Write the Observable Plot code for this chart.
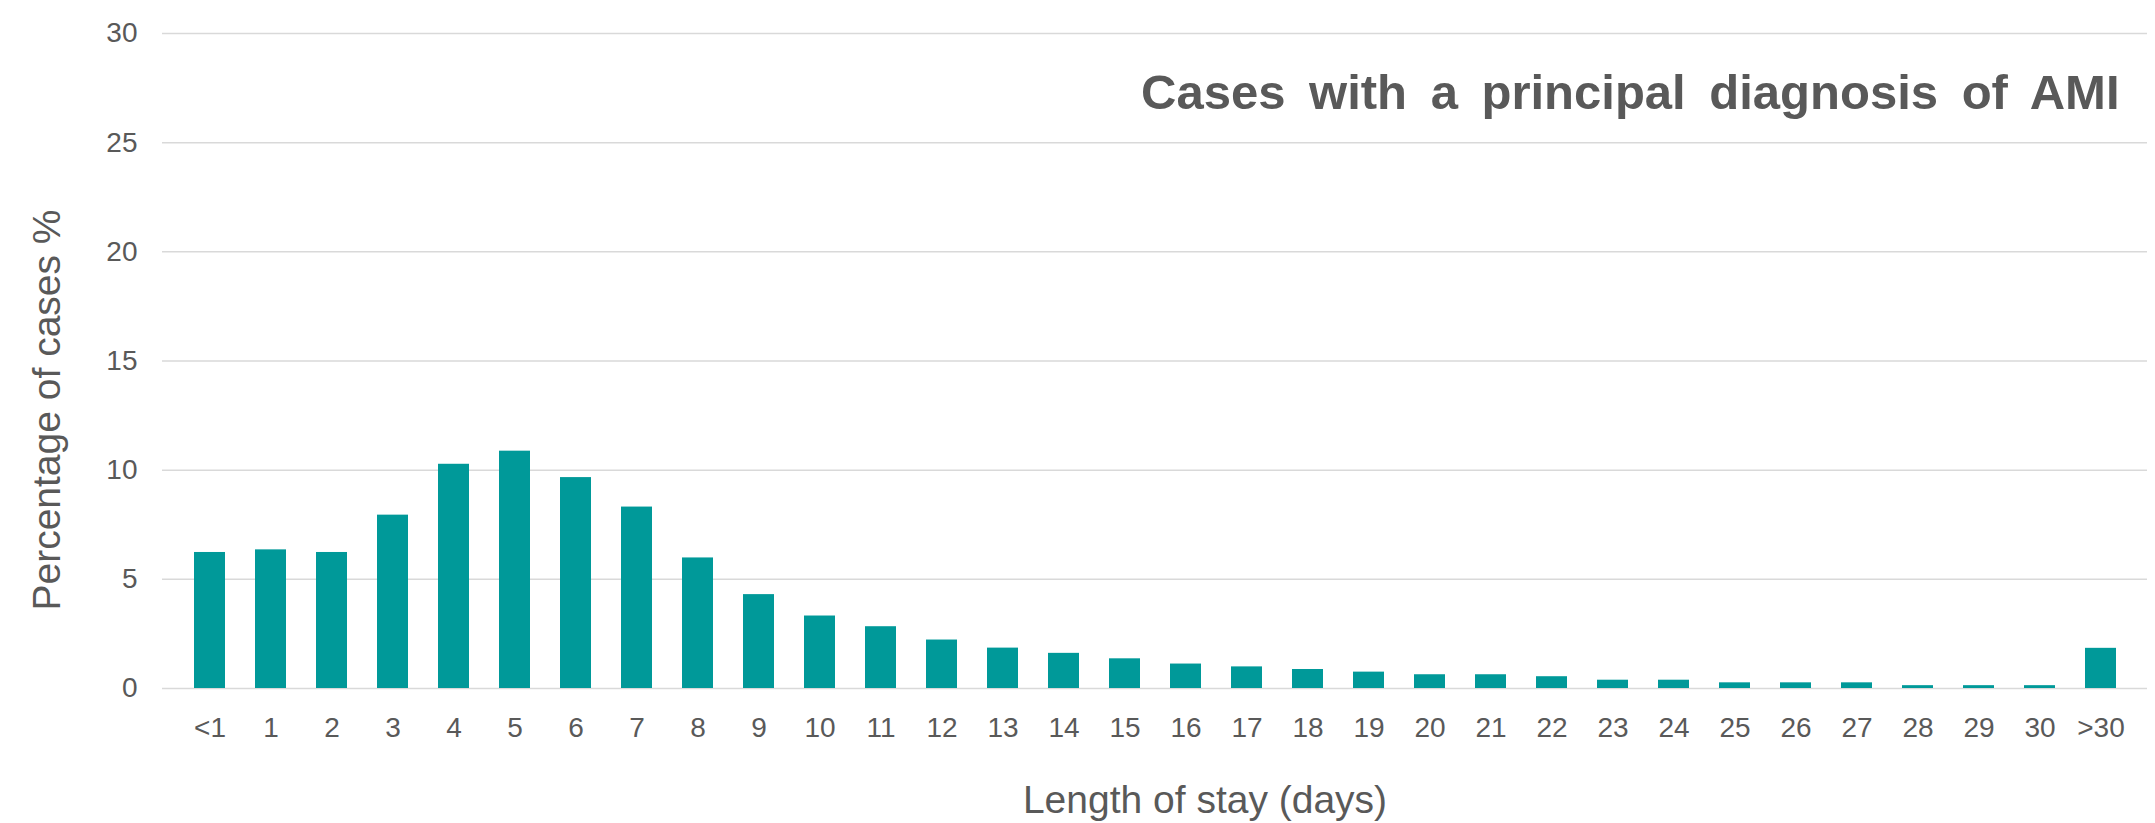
<!DOCTYPE html>
<html>
<head>
<meta charset="utf-8">
<script src="https://cdn.jsdelivr.net/npm/d3@7"></script>
<script src="https://cdn.jsdelivr.net/npm/@observablehq/plot@0.6"></script>
<style>
  html, body { margin: 0; padding: 0; background: #ffffff; }
</style>
</head>
<body>
<div id="chart"></div>
<script>
const categories = ["<1","1","2","3","4","5","6","7","8","9","10","11","12","13","14","15","16","17","18","19","20","21","22","23","24","25","26","27","28","29","30",">30"];
const values = [6.23, 6.35, 6.23, 7.94, 10.27, 10.87, 9.66, 8.31, 5.98, 4.30, 3.32, 2.83, 2.22, 1.85, 1.61, 1.36, 1.12, 0.99, 0.87, 0.75, 0.63, 0.63, 0.54, 0.38, 0.38, 0.26, 0.26, 0.26, 0.13, 0.13, 0.13, 1.84];
const yTicks = [0, 5, 10, 15, 20, 25, 30];
const chartTitle = "Cases with a principal diagnosis of AMI";
const xTitle = "Length of stay (days)";
const yTitle = "Percentage of cases %";

const data = categories.map((c, i) => ({category: c, value: values[i]}));
const textColor = "#595959";

const chart = Plot.plot({
  width: 2155,
  height: 823,
  marginTop: 33,
  marginBottom: 135,
  marginLeft: 162,
  marginRight: 8,
  style: {fontFamily: "'Liberation Sans', Arial, sans-serif", color: textColor, background: "#ffffff"},
  x: {type: "band", domain: categories, paddingInner: 0.5, paddingOuter: 0.3, label: null},
  y: {domain: [0, 30], label: null},
  marks: [
    Plot.gridY(yTicks, {stroke: "#d9d9d9", strokeOpacity: 1, strokeWidth: 1.5}),
    Plot.barY(data, {x: "category", y: "value", fill: "#009999"}),
    Plot.axisY(yTicks, {tickSize: 0, tickPadding: 25, fontSize: 28, label: null, fill: textColor}),
    Plot.axisX({tickSize: 0, tickPadding: 29, fontSize: 28, label: null, fill: textColor}),
    Plot.text([chartTitle], {text: d => d, frameAnchor: "top-right", textAnchor: "end", lineAnchor: "top",
      dx: -28, dy: 41, fontSize: 49, fontWeight: "bold", fill: textColor}),
    Plot.text([xTitle], {text: d => d, frameAnchor: "bottom", textAnchor: "middle", lineAnchor: "top",
      dx: 50, dy: 97, fontSize: 39, fill: textColor}),
    Plot.text([yTitle], {text: d => d, frameAnchor: "left", textAnchor: "middle", lineAnchor: "middle",
      rotate: -90, dx: -115, dy: 49, fontSize: 39, fill: textColor})
  ]
});

chart.querySelectorAll("text").forEach(t => {
  if (t.textContent === chartTitle) t.style.wordSpacing = "10px";
});

document.getElementById("chart").appendChild(chart);
</script>
</body>
</html>
